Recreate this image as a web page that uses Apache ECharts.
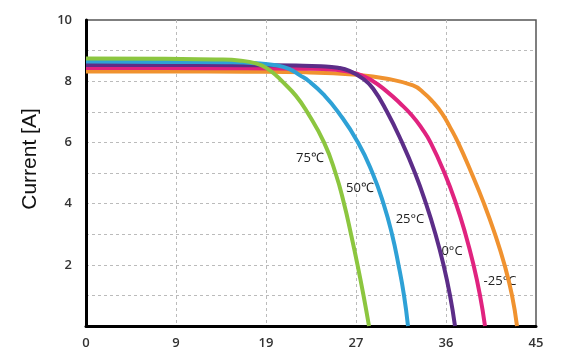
<!DOCTYPE html>
<html>
<head>
<meta charset="utf-8">
<script src="https://cdn.jsdelivr.net/npm/echarts@6/dist/echarts.min.js"></script>
<style>html,body{margin:0;padding:0;background:#fff}#c{width:565px;height:359px}</style>
</head>
<body>
<div id="c"></div>
<script>
var xTickLabels = ["0", "9", "19", "27", "36", "45"];
var seriesNames = ["75℃", "50℃", "25°C", "0°C", "-25°C"];
var seriesColors = ["#8cc63f", "#2ea1d6", "#5c2d88", "#e0237f", "#f0922f"];
var curve75 = [[0,8.74],[8,8.73],[13,8.71],[15.5,8.67],[17,8.58],[18.1,8.42],[19.1,8.16],[19.6,8.0],[21.0,7.52],[22.1,7.0],[23.8,6.0],[24.95,5.0],[25.8,4.0],[26.5,3.0],[27.15,2.0],[27.75,1.0],[28.3,0]];
var curve50 = [[0,8.64],[8,8.63],[14,8.62],[17,8.59],[19,8.52],[20.3,8.4],[21.4,8.19],[22.3,8.0],[23.8,7.55],[25.2,7.0],[27.2,6.0],[28.65,5.0],[29.75,4.0],[30.6,3.0],[31.25,2.0],[31.8,1.0],[32.2,0]];
var curve25 = [[0,8.53],[8,8.53],[16,8.52],[21,8.51],[23.5,8.49],[25.2,8.44],[26.4,8.33],[27.7,8.08],[28.7,7.76],[30.1,7.0],[31.6,6.0],[32.9,5.0],[34.0,4.0],[34.95,3.0],[35.75,2.0],[36.4,1.0],[36.9,0]];
var curve0 = [[0,8.43],[8,8.43],[16,8.42],[22,8.41],[25,8.37],[27.1,8.25],[28.7,8.0],[30.1,7.66],[31.4,7.28],[32.6,6.88],[33.6,6.45],[34.45,6.0],[35.85,5.0],[37.0,4.0],[37.95,3.0],[38.75,2.0],[39.4,1.0],[39.9,0]];
var curveM25 = [[0,8.32],[8,8.32],[16,8.31],[22,8.29],[27.1,8.21],[30.1,8.08],[32.7,7.86],[33.7,7.64],[34.7,7.32],[35.6,6.95],[36.4,6.5],[37.2,6.0],[38.55,5.0],[39.8,4.0],[40.9,3.0],[41.85,2.0],[42.6,1.0],[43.1,0]];
var labelPos = [[22.4,5.49],[27.4,4.51],[32.4,3.5],[36.6,2.45],[41.4,1.47]];

var curves = [curve75, curve50, curve25, curve0, curveM25];
var series = curves.map(function (d, i) {
  return {
    type: 'line', name: seriesNames[i], data: d, smooth: 0.5, showSymbol: false,
    lineStyle: { color: seriesColors[i], width: 4, join: 'round', cap: 'butt' },
    z: 10 - i,
    markPoint: {
      symbol: 'circle', symbolSize: 0, silent: true,
      data: [{ coord: labelPos[i], value: seriesNames[i] }],
      label: { show: true, position: 'inside', formatter: seriesNames[i],
        color: '#222', fontSize: 13, fontWeight: 500, fontFamily: 'Open Sans' }
    }
  };
});
var chart = echarts.init(document.getElementById('c'));
chart.setOption({
  animation: false,
  grid: { left: 86, right: 29, top: 20, bottom: 33, containLabel: false, outerBoundsMode: 'none',
    show: true, borderColor: '#555', borderWidth: 1.5 },
  xAxis: {
    type: 'value', min: 0, max: 45, interval: 9,
    axisLine: { show: true, lineStyle: { color: '#000', width: 3 } },
    axisTick: { show: false },
    axisLabel: { margin: 11, color: '#333', fontSize: 13, fontWeight: 600, fontFamily: 'Open Sans',
      formatter: function (v) { return xTickLabels[Math.round(v / 9)]; } },
    splitLine: { show: true, showMinLine: false, showMaxLine: false, lineStyle: { color: '#bbb', type: [3, 3], width: 1 } }
  },
  yAxis: {
    type: 'value', min: 0, max: 10, interval: 1,
    name: 'Current [A]', nameLocation: 'middle', nameGap: 45,
    nameTextStyle: { fontSize: 21, color: '#111', fontFamily: 'Liberation Sans', padding: [0, 0, 0, 28] },
    axisLine: { show: true, lineStyle: { color: '#000', width: 3 } },
    axisTick: { show: false },
    axisLabel: { margin: 14, color: '#333', fontSize: 13, fontWeight: 600, fontFamily: 'Open Sans',
      formatter: function (v) { return (v > 0 && v % 2 === 0) ? String(v) : ''; } },
    splitLine: { show: true, showMinLine: false, showMaxLine: false, lineStyle: { color: '#bbb', type: [3, 3], width: 1 } }
  },
  series: series
});
</script>
</body>
</html>
